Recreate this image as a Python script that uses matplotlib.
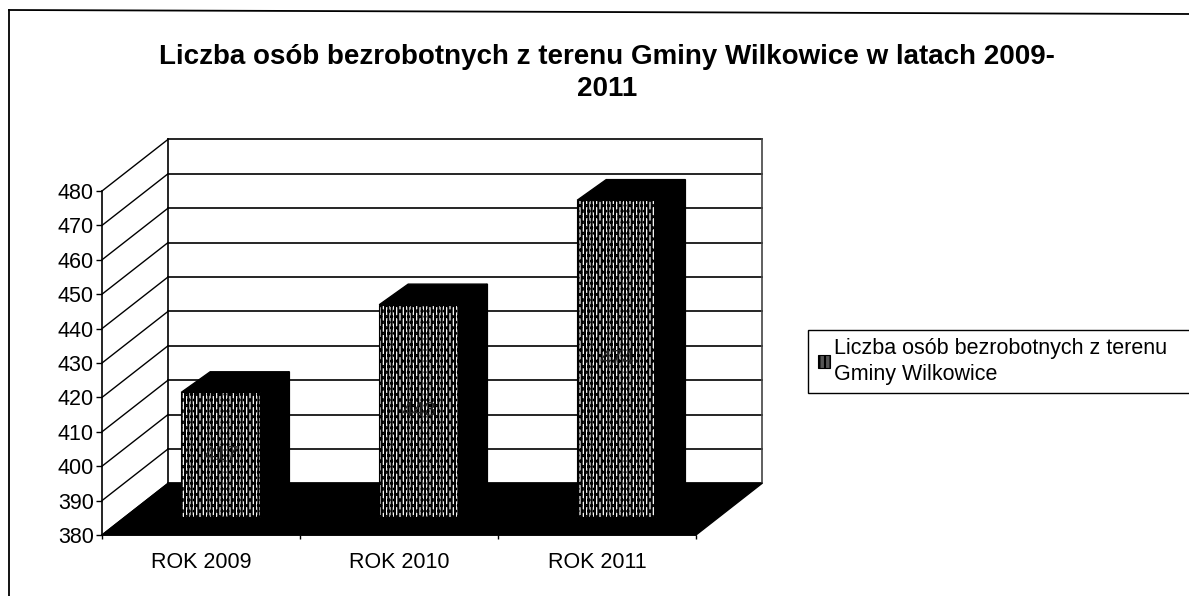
import matplotlib
matplotlib.use("Agg")
import matplotlib.pyplot as plt
from matplotlib.lines import Line2D
from matplotlib.patches import Polygon, Rectangle

plt.rcParams['font.family'] = ['Liberation Sans', 'DejaVu Sans']
plt.rcParams['hatch.linewidth'] = 1.5

title_text = "Liczba osób bezrobotnych z terenu Gminy Wilkowice w latach 2009-\n2011"
legend_text = "Liczba osób bezrobotnych z terenu\nGminy Wilkowice"
categories = ["ROK 2009", "ROK 2010", "ROK 2011"]
values = [417, 443, 474]
y_ticks = [380, 390, 400, 410, 420, 430, 440, 450, 460, 470, 480]

W, H = 1189, 596
fig = plt.figure(figsize=(W / 100, H / 100), dpi=100)
ax = fig.add_axes([102 / W, 1 - 535 / H, 594 / W, 344 / H])
ax.set_xlim(0, 3)
ax.set_ylim(380, 480)
ax.patch.set_visible(False)

# depth of the fake 3d box, in data units
dx = 66 / 198
dy = 15.0
bar_depth = 0.346
bar_shift = 0.10
bar_w = 0.4
bar_dx = 29 / 198
bar_dy = 6.0
top = y_ticks[-1]
base = y_ticks[0]

# side wall, back wall, gridlines
for v in y_ticks:
    ax.plot([0, dx], [v, v + dy], color='black', lw=1, clip_on=False, zorder=1)
    ax.plot([dx, 3 + dx], [v + dy, v + dy], color='black', lw=1.2, clip_on=False, zorder=1)
ax.plot([dx, dx], [base + dy, top + dy], color='black', lw=1.2, clip_on=False, zorder=1)
ax.plot([3 + dx, 3 + dx], [base + dy, top + dy], color='#444444', lw=1.2, clip_on=False, zorder=1)

# floor
ax.add_patch(Polygon([(0, base), (3, base), (3 + dx, base + dy), (dx, base + dy)],
                     closed=True, facecolor='black', edgecolor='black', clip_on=False, zorder=2))

# bars
for i, v in enumerate(values):
    x0 = i + 0.5 - bar_w / 2 + bar_shift
    x1 = x0 + bar_w
    y0 = base + bar_depth * dy
    y1 = y0 + (v - base) * 0.98
    ax.add_patch(Polygon([(x1, y0), (x1 + bar_dx, y0 + bar_dy), (x1 + bar_dx, y1 + bar_dy), (x1, y1)],
                         closed=True, facecolor='black', edgecolor='black', clip_on=False, zorder=3))
    ax.add_patch(Polygon([(x0, y1), (x1, y1), (x1 + bar_dx, y1 + bar_dy), (x0 + bar_dx, y1 + bar_dy)],
                         closed=True, facecolor='black', edgecolor='black', clip_on=False, zorder=3))
    ax.add_patch(Rectangle((x0, y0), bar_w, y1 - y0, facecolor='white', edgecolor='black',
                           hatch='|||||...', lw=0.8, clip_on=False, zorder=4))
    ax.text((x0 + x1) / 2, (y0 + y1) / 2, str(v), ha='center', va='center', fontsize=15,
            color='#222222', zorder=5)

for s in ['top', 'right']:
    ax.spines[s].set_visible(False)
ax.spines['left'].set_linewidth(1.2)
ax.spines['bottom'].set_linewidth(1.2)
ax.spines['left'].set_zorder(6)
ax.set_yticks(y_ticks)
ax.set_xticks([0, 1, 2, 3])
ax.set_xticklabels([])
ax.set_xticks([0.5, 1.5, 2.5], minor=True)
ax.set_xticklabels(categories, minor=True)
ax.tick_params(axis='x', which='minor', length=0, labelsize=15.5, pad=12)
ax.tick_params(axis='x', which='major', length=3, width=1)
ax.tick_params(axis='y', length=4, width=1, labelsize=15.5, pad=2)

fig.text(607 / W, 1 - 73 / H, title_text, ha='center', va='center', fontsize=20,
         fontweight='bold', linespacing=1.3)

# scanned frame, open on the right and at the bottom
fig.add_artist(Line2D([9 / W, 1], [1 - 10 / H, 1 - 14 / H], color='black', lw=1.3))
fig.add_artist(Line2D([9 / W, 9 / W], [1 - 10 / H, 0], color='black', lw=1.3))

# legend box runs off the right edge of the scan
fig.add_artist(Rectangle((808 / W, 1 - 393 / H), 420 / W, 63 / H, transform=fig.transFigure,
                         facecolor='white', edgecolor='black', lw=1))
handle = Rectangle((0, 0), 1, 1, facecolor='#555555', edgecolor='black', hatch='|||', lw=0.8)
leg = fig.legend([handle], [legend_text], loc='upper left', bbox_to_anchor=(816 / W, 1 - 336 / H),
                 bbox_transform=fig.transFigure, frameon=False, fontsize=15.5,
                 handlelength=0.55, handleheight=0.55, handletextpad=0.2,
                 borderpad=0.1, borderaxespad=0, labelspacing=0)
leg.get_texts()[0].set_linespacing(1.3)

fig.savefig("out.png", dpi=100)
